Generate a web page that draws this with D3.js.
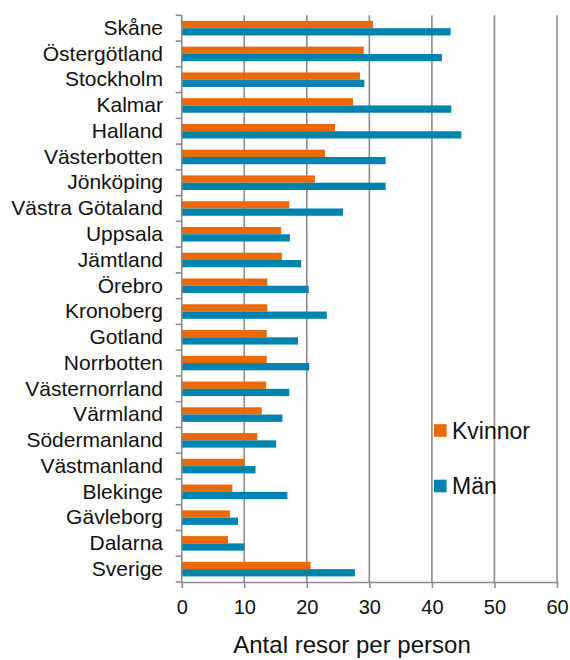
<!DOCTYPE html>
<html>
<head>
<meta charset="utf-8">
<script src="https://cdn.jsdelivr.net/npm/d3@7"></script>
<style>
  body { margin: 0; background: #fff; }
  text { font-family: "Liberation Sans", Arial, sans-serif; fill: #111; }
</style>
</head>
<body>
<svg id="vis" width="570" height="660"></svg>
<script>
// regions, top to bottom
var regions = ['Skåne', 'Östergötland', 'Stockholm', 'Kalmar', 'Halland', 'Västerbotten',
    'Jönköping', 'Västra Götaland', 'Uppsala', 'Jämtland', 'Örebro', 'Kronoberg',
    'Gotland', 'Norrbotten', 'Västernorrland', 'Värmland', 'Södermanland',
    'Västmanland', 'Blekinge', 'Gävleborg', 'Dalarna', 'Sverige'];

// trips per person
var kvinnor = [30.6, 29.1, 28.5, 27.4, 24.5, 22.9, 21.3, 17.2, 15.9, 16.0, 13.7, 13.7,
    13.6, 13.6, 13.5, 12.8, 12.1, 10.1, 8.1, 7.7, 7.4, 20.6];
var man = [43.0, 41.6, 29.2, 43.1, 44.7, 32.6, 32.6, 25.8, 17.3, 19.1, 20.3, 23.2,
    18.6, 20.4, 17.2, 16.1, 15.1, 11.8, 16.9, 9.0, 10.0, 27.7];

var series = ['Kvinnor', 'Män'];
var colors = ['#EB6908', '#0083AD'];
var xTicks = [0, 10, 20, 30, 40, 50, 60];

var svg = d3.select('#vis');
var plotLeft = 181.7, plotRight = 557, plotTop = 15.3, plotBottom = 582;
var gridColor = '#8c8c8c';

var x = d3.scaleLinear().domain([0, 60]).range([plotLeft, plotRight]);
var y = d3.scaleBand().domain(regions).range([plotTop, plotBottom]);
var inner = d3.scaleBand().domain(series).range([5.6, y.bandwidth() - 5.6]);

// vertical gridlines
svg.append('g').selectAll('line')
    .data(xTicks.slice(1))
    .enter().append('line')
    .attr('x1', function(d) { return x(d); })
    .attr('x2', function(d) { return x(d); })
    .attr('y1', plotTop).attr('y2', plotBottom)
    .attr('stroke', gridColor).attr('stroke-width', 1.6);

// bars
var rows = regions.map(function(r, i) { return {region: r, values: [kvinnor[i], man[i]]}; });
var grp = svg.append('g').selectAll('g')
    .data(rows)
    .enter().append('g')
    .attr('transform', function(d) { return 'translate(0,' + y(d.region) + ')'; });

grp.selectAll('rect')
    .data(function(d) { return d.values.map(function(v, j) { return {s: series[j], v: v, c: colors[j]}; }); })
    .enter().append('rect')
    .attr('x', x(0))
    .attr('y', function(d) { return inner(d.s); })
    .attr('width', function(d) { return x(d.v) - x(0); })
    .attr('height', inner.bandwidth())
    .attr('fill', function(d) { return d.c; });

// y axis
var yAxis = d3.axisLeft(y).tickSize(0).tickPadding(18.7);
var yg = svg.append('g').attr('transform', 'translate(' + plotLeft + ',0)').call(yAxis);
yg.select('.domain').remove();
yg.selectAll('text').style('font-size', '21px').attr('fill', '#111');
svg.append('line').attr('x1', plotLeft).attr('x2', plotLeft).attr('y1', plotTop).attr('y2', plotBottom)
    .attr('stroke', gridColor).attr('stroke-width', 1.6);
// category separator ticks
var edges = regions.map(function(r) { return y(r); }).concat([plotBottom]);
svg.append('g').selectAll('line').data(edges).enter().append('line')
    .attr('x1', plotLeft - 6).attr('x2', plotLeft)
    .attr('y1', function(d) { return d; }).attr('y2', function(d) { return d; })
    .attr('stroke', gridColor).attr('stroke-width', 1.6);

// x axis
var xAxis = d3.axisBottom(x).tickValues(xTicks).tickSize(6).tickPadding(12).tickSizeOuter(0);
var xg = svg.append('g').attr('transform', 'translate(0,' + plotBottom + ')').call(xAxis);
xg.select('.domain').attr('stroke', gridColor).attr('stroke-width', 1.6);
xg.selectAll('line').attr('stroke', gridColor).attr('stroke-width', 1.6);
xg.selectAll('text').style('font-size', '20px').attr('fill', '#111');

svg.append('text')
    .attr('x', 352).attr('y', 653)
    .attr('text-anchor', 'middle')
    .style('font-size', '24px')
    .text('Antal resor per person');

// legend
var legend = svg.append('g').selectAll('g')
    .data(series).enter().append('g')
    .attr('transform', function(d, i) { return 'translate(434,' + (430.5 + i * 55.5) + ')'; });
legend.append('rect').attr('x', 0).attr('y', -6.3).attr('width', 12.6).attr('height', 12.6)
    .attr('fill', function(d, i) { return colors[i]; });
legend.append('text').attr('x', 18).attr('y', 8)
    .style('font-size', '23px')
    .text(function(d) { return d; });
</script>
</body>
</html>
